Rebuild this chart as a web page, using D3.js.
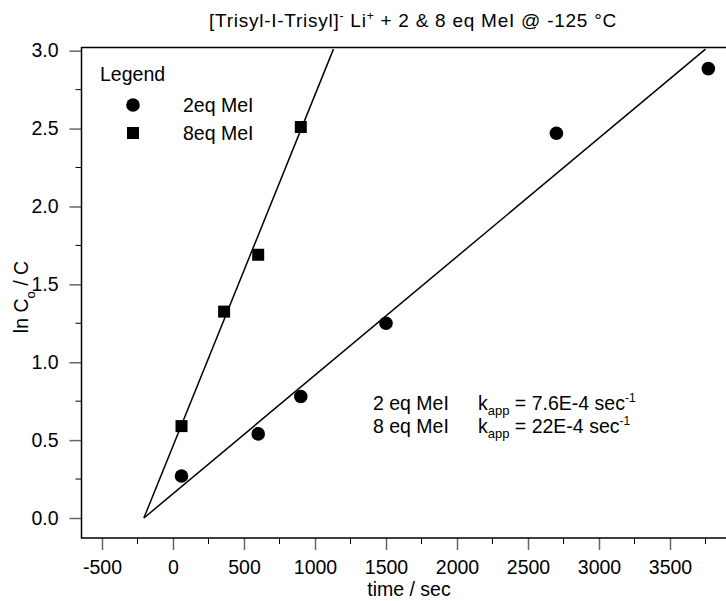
<!DOCTYPE html>
<html>
<head>
<meta charset="utf-8">
<script src="https://cdn.jsdelivr.net/npm/d3@7"></script>
<style>
	body { margin:0; background:#fff; }
	text { font-family:"Liberation Sans", Arial, sans-serif; fill:#000; }
</style>
</head>
<body>
<div class="c_chart"></div>
<script>

/*DATA
------------------------------------------------------
*/

const time2eq = [60, 600, 900, 1500, 2700, 3770];
const lnc2eq = [0.27, 0.54, 0.78, 1.25, 2.47, 2.885];

const time8eq = [60, 360, 600, 900];
const lnc8eq = [0.59, 1.325, 1.69, 2.51];

// fitted lines, two end points each
const fit2eqTime = [-205, 3750];
const fit2eqLnc = [0, 3.01];
const fit8eqTime = [-205, 1130];
const fit8eqLnc = [0, 3.01];

const xTicks = [-500, 0, 500, 1000, 1500, 2000, 2500, 3000, 3500];
const xMinor = [-250, 250, 750, 1250, 1750, 2250, 2750, 3250, 3750];
const yTicks = [0, 0.5, 1.0, 1.5, 2.0, 2.5, 3.0];
const yMinor = [0.25, 0.75, 1.25, 1.75, 2.25, 2.75];

/*INITIATE
------------------------------------------------------
*/

let width = 726;
let height = 601;
const box = {top:47.5, left:81.5, bottom:538, right:760};
const fs = 19.5;

let svg = d3.select(".c_chart")
	.append("svg")
	.attr("width", width)
	.attr("height", height);

const x = d3.scaleLinear().domain([-500, 3500]).range([102, 670]);
const y = d3.scaleLinear().domain([0, 3]).range([518, 50.7]);

svg.append("clipPath")
	.attr("id", "clip")
	.append("rect")
	.attr("x", box.left)
	.attr("y", box.top)
	.attr("width", box.right - box.left)
	.attr("height", box.bottom - box.top);

/*AXES
------------------------------------------------------
*/

const xAxis = svg.append("g")
	.attr("transform", "translate(0," + box.bottom + ")")
	.call(d3.axisBottom(x).tickValues(xTicks).tickSize(12).tickPadding(4)
		.tickFormat(d => String(d)));
const yAxis = svg.append("g")
	.attr("transform", "translate(" + box.left + ",0)")
	.call(d3.axisLeft(y).tickValues(yTicks).tickSize(12).tickPadding(11)
		.tickFormat(d => d.toFixed(1)));

[xAxis, yAxis].forEach(function(a){
	a.select(".domain").remove();
	a.selectAll("line").attr("stroke", "#666").attr("stroke-width", 1.5);
	a.selectAll("text")
		.style("font-family", "'Liberation Sans', Arial, sans-serif")
		.style("font-size", fs + "px");
});
xAxis.selectAll("text").attr("dy", "1.05em");

svg.append("g")
	.selectAll("line")
	.data(xMinor)
	.enter()
	.append("line")
	.attr("x1", d => x(d)).attr("x2", d => x(d))
	.attr("y1", box.bottom).attr("y2", box.bottom + 6)
	.attr("stroke", "#000");

svg.append("g")
	.selectAll("line")
	.data(yMinor)
	.enter()
	.append("line")
	.attr("y1", d => y(d)).attr("y2", d => y(d))
	.attr("x1", box.left).attr("x2", box.left - 6)
	.attr("stroke", "#000");

// frame: left, bottom and top (right side is cut off)
svg.append("path")
	.attr("d", "M" + width + "," + box.top + "H" + box.left + "V" + box.bottom + "H" + width)
	.attr("fill", "none")
	.attr("stroke", "#000")
	.attr("stroke-width", 1.5);

/*MARKS
------------------------------------------------------
*/

const plot = svg.append("g").attr("clip-path", "url(#clip)");

const line = d3.line().x(d => x(d[0])).y(d => y(d[1]));

plot.append("path")
	.attr("d", line(d3.zip(fit2eqTime, fit2eqLnc)))
	.attr("fill", "none").attr("stroke", "#000").attr("stroke-width", 1.5);
plot.append("path")
	.attr("d", line(d3.zip(fit8eqTime, fit8eqLnc)))
	.attr("fill", "none").attr("stroke", "#000").attr("stroke-width", 1.5);

plot.selectAll("circle")
	.data(d3.zip(time2eq, lnc2eq))
	.enter()
	.append("circle")
	.attr("cx", d => x(d[0]))
	.attr("cy", d => y(d[1]))
	.attr("r", 6.8);

plot.selectAll("rect.sq")
	.data(d3.zip(time8eq, lnc8eq))
	.enter()
	.append("rect")
	.attr("class", "sq")
	.attr("x", d => x(d[0]) - 6)
	.attr("y", d => y(d[1]) - 6)
	.attr("width", 12)
	.attr("height", 12);

/*TEXTS
------------------------------------------------------
*/

const title = svg.append("text")
	.attr("x", 413)
	.attr("y", 27)
	.attr("text-anchor", "middle")
	.style("font-size", "19px")
	.style("letter-spacing", "0.75px");
title.append("tspan").text("[Trisyl-I-Trisyl]");
title.append("tspan").attr("dy", -7).style("font-size", "12px").text("-");
title.append("tspan").attr("dy", 7).text(" Li");
title.append("tspan").attr("dy", -7).style("font-size", "12px").text("+");
title.append("tspan").attr("dy", 7).text(" + 2 & 8 eq MeI @ -125 \u00B0C");

svg.append("text")
	.attr("x", 409)
	.attr("y", 596)
	.attr("text-anchor", "middle")
	.style("font-size", fs + "px")
	.text("time / sec");

const ylab = svg.append("text")
	.attr("transform", "translate(28,297) rotate(-90)")
	.attr("text-anchor", "middle")
	.style("font-size", fs + "px");
ylab.append("tspan").text("ln C");
ylab.append("tspan").attr("dy", 7).style("font-size", "13px").text("o");
ylab.append("tspan").attr("dy", -7).text(" / C");

// legend
svg.append("text").attr("x", 100).attr("y", 81).style("font-size", fs + "px").text("Legend");
svg.append("circle").attr("cx", 133).attr("cy", 105).attr("r", 6.8);
svg.append("rect").attr("x", 127).attr("y", 127).attr("width", 12).attr("height", 12);
svg.append("text").attr("x", 183).attr("y", 112).style("font-size", fs + "px").text("2eq MeI");
svg.append("text").attr("x", 183).attr("y", 140).style("font-size", fs + "px").text("8eq MeI");

// rate constants
const rates = [["2 eq MeI", "7.6E-4"], ["8 eq MeI", "22E-4"]];
rates.forEach(function(r, i){
	const by = 410 + i * 23;
	svg.append("text").attr("x", 373).attr("y", by).style("font-size", fs + "px").text(r[0]);
	const t = svg.append("text").attr("x", 478).attr("y", by).style("font-size", fs + "px");
	t.append("tspan").text("k");
	t.append("tspan").attr("dy", 5).style("font-size", "13px").text("app");
	t.append("tspan").attr("dy", -5).text(" = " + r[1] + " sec");
	t.append("tspan").attr("dy", -8).style("font-size", "12px").text("-1");
});

</script>
</body>
</html>
